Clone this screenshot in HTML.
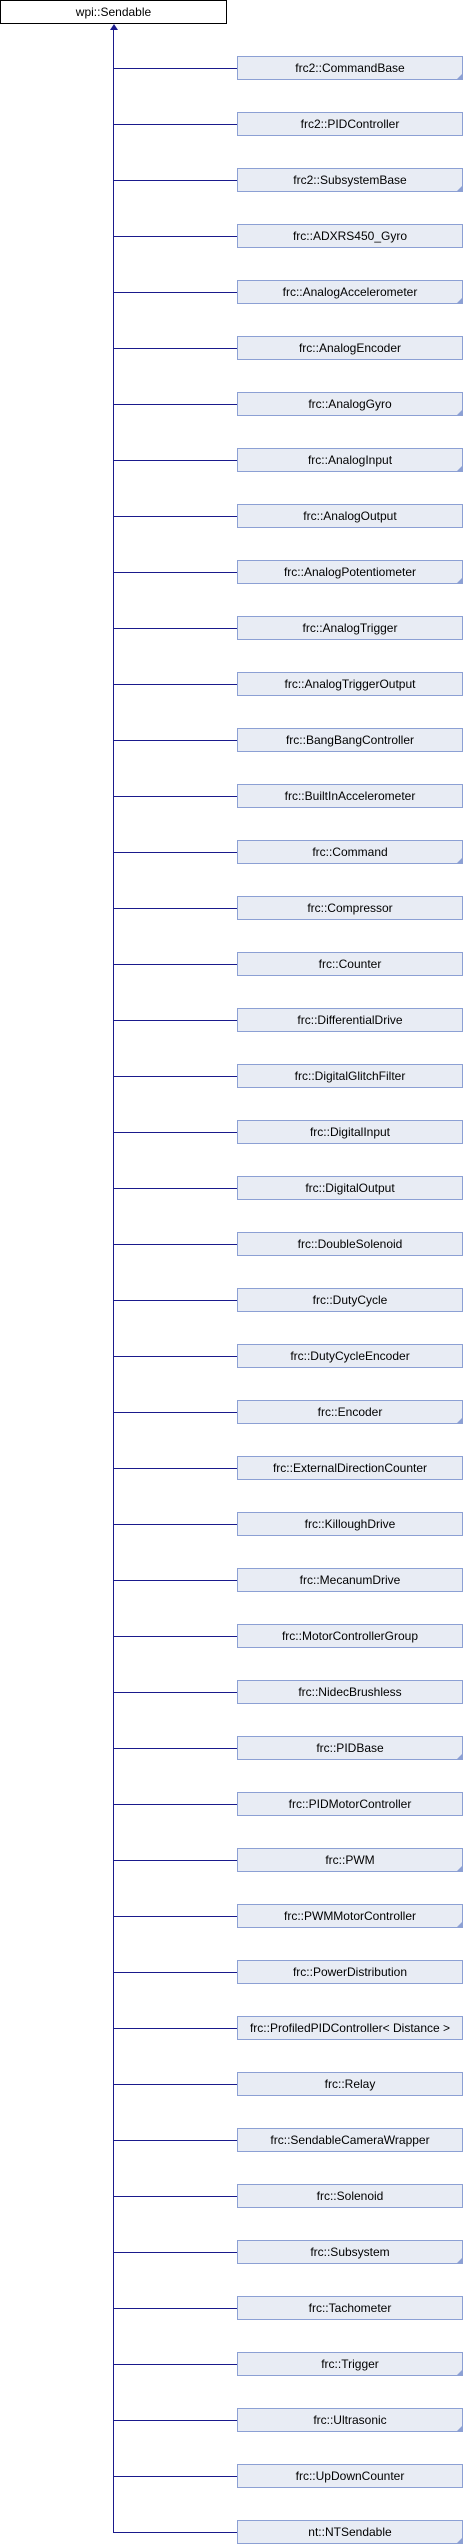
<!DOCTYPE html>
<html><head><meta charset="utf-8"><style>
html,body{margin:0;padding:0;background:#fff;width:464px;height:2544px;overflow:hidden;position:relative;font-family:"Liberation Sans",Arial,sans-serif;}
.b{position:absolute;left:237px;width:224px;height:22px;background:#e8ecf4;border:1px solid #8ca0d4;font-size:12px;line-height:22px;text-align:center;color:#000;white-space:nowrap;}
.t::after{content:"";position:absolute;right:0;bottom:0;width:0;height:0;border-left:5px solid transparent;border-bottom:5px solid #8ca0d4;}
.h{position:absolute;left:113px;width:124px;height:1px;background:#1a1a8c;}
#root{position:absolute;left:0;top:0;width:225px;height:22px;border:1px solid #000;background:#fff;font-size:12px;line-height:22px;text-align:center;}
#v{position:absolute;left:113px;top:28px;width:1px;height:2505px;background:#1a1a8c;}
#ar{position:absolute;left:110px;top:24px;width:0;height:0;border-left:4px solid transparent;border-right:4px solid transparent;border-bottom:6px solid #1a1a8c;}
</style></head><body>
<div id="root">wpi::Sendable</div>
<div id="v"></div><div id="ar"></div>
<script>
var n=[["frc2::CommandBase",1],["frc2::PIDController",0],["frc2::SubsystemBase",1],["frc::ADXRS450_Gyro",0],["frc::AnalogAccelerometer",1],["frc::AnalogEncoder",0],["frc::AnalogGyro",1],["frc::AnalogInput",1],["frc::AnalogOutput",0],["frc::AnalogPotentiometer",1],["frc::AnalogTrigger",0],["frc::AnalogTriggerOutput",0],["frc::BangBangController",0],["frc::BuiltInAccelerometer",0],["frc::Command",1],["frc::Compressor",0],["frc::Counter",0],["frc::DifferentialDrive",0],["frc::DigitalGlitchFilter",0],["frc::DigitalInput",0],["frc::DigitalOutput",0],["frc::DoubleSolenoid",0],["frc::DutyCycle",0],["frc::DutyCycleEncoder",0],["frc::Encoder",1],["frc::ExternalDirectionCounter",0],["frc::KilloughDrive",0],["frc::MecanumDrive",0],["frc::MotorControllerGroup",0],["frc::NidecBrushless",0],["frc::PIDBase",1],["frc::PIDMotorController",0],["frc::PWM",1],["frc::PWMMotorController",1],["frc::PowerDistribution",0],["frc::ProfiledPIDController< Distance >",0],["frc::Relay",0],["frc::SendableCameraWrapper",0],["frc::Solenoid",0],["frc::Subsystem",1],["frc::Tachometer",0],["frc::Trigger",1],["frc::Ultrasonic",1],["frc::UpDownCounter",0],["nt::NTSendable",1]];
var h="";
for(var i=0;i<n.length;i++){var y=56+i*56;
h+='<div class="h" style="top:'+(y+12)+'px"></div>';
h+='<div class="b'+(n[i][1]?' t':'')+'" style="top:'+y+'px">'+n[i][0].replace(/</g,"&lt;").replace(/>/g,"&gt;")+'</div>';}
document.body.insertAdjacentHTML("beforeend",h);
</script>
</body></html>
